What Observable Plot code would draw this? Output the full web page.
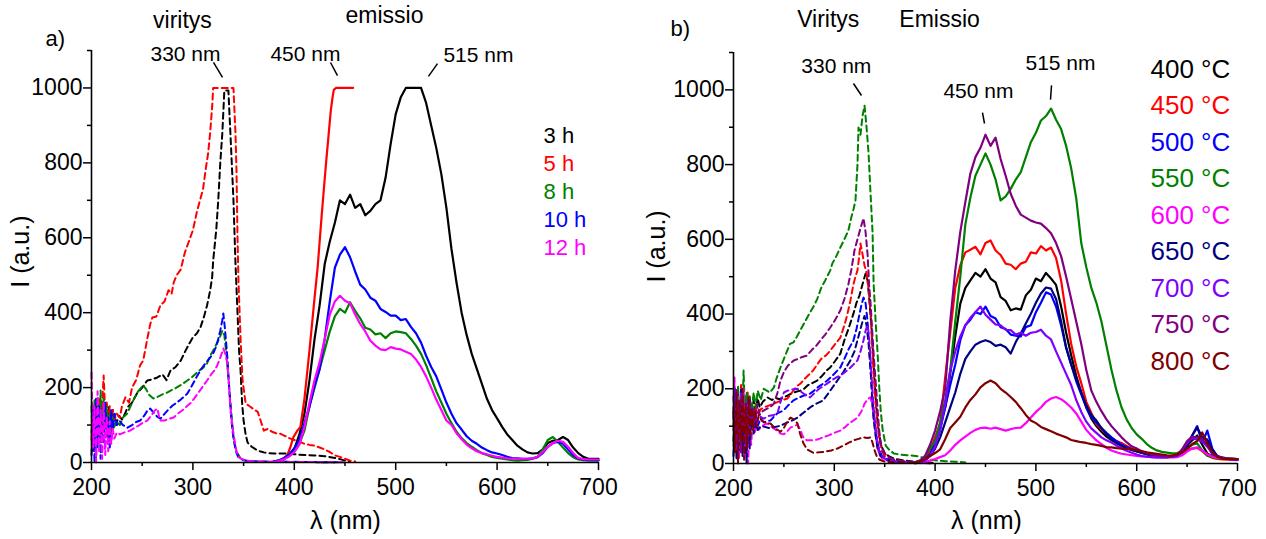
<!DOCTYPE html>
<html><head><meta charset="utf-8">
<script src="https://cdn.jsdelivr.net/npm/d3@7"></script>
<script src="https://cdn.jsdelivr.net/npm/@observablehq/plot@0.6"></script>
<style>
body{margin:0;background:#fff;}
#wrap{display:flex;width:1266px;height:539px;overflow:hidden;}
#wrap svg{font-family:"Liberation Sans",Arial,sans-serif;overflow:visible;}
</style></head><body><div id="wrap"></div>
<script>
// ---------- shared ticks ----------
const xMajor = [200,300,400,500,600,700];
const xMinor = [250,350,450,550,650];
const yMajor = [0,200,400,600,800,1000];
const yMinor = [100,300,500,700,900,1100];

// emission wavelength grid (nm)
const wlEm = [380,385,390,395,400,405,410,415,420,425,430,435,440,445,450,455,460,465,470,475,480,485,490,495,500,505,510,515,520,525,530,535,540,545,550,555,560,565,570,575,580,585,590,595,600,605,610,615,620,625,630,635,640,645,650,655,660,665,670,675,680,685,690,695,700];

// ---------- panel a : excitation (dashed), [nm, I] ----------
const exA_3h = [[200,80],[201.5,130],[203,60],[204.5,150],[206,90],[207.5,140],[209,70],[210.5,155],[212,100],[213.5,145],[215,90],[217,150],[219,110],[221,140],[224,100],[227,125],[230,115],[233,130],[235.5,147],[240,160],[245,185],[250,200],[255,219],[260,222],[265,227],[270,235],[274,220],[278,246],[283,255],[288,272],[293,300],[297,320],[300,334],[304,345],[307.5,361],[311,390],[314,420],[317,459],[319,495],[320,539],[323,620],[325,700],[327,800],[329,878],[331,993],[335,993],[337,878],[339,760],[340,700],[342,531],[344,400],[345.5,300],[347,246],[348.5,160],[350,112],[352,75],[354,53],[358,42],[362,35],[366,30],[370,27],[375,25],[380,24],[390,24],[400,22],[410,20],[420,19],[430,17],[440,12],[445,9],[450,5],[455,3]];
const exA_5h = [[200,60],[201.5,150],[203,100],[204.5,160],[206,90],[207.5,170],[209,120],[210.5,160],[212,232],[213.5,130],[215,160],[216.5,110],[218,150],[219.5,120],[221,140],[223,115],[225,130],[228,120],[230,150],[233.5,174],[237,160],[240,200],[244,220],[248,260],[251,272],[255,330],[258,370],[260,387],[264,390],[268,420],[272,430],[276,460],[279,450],[281,480],[284,500],[288,515],[292,560],[296,590],[300,620],[304,670],[307,700],[310,730],[313,790],[315,825],[317,880],[319,950],[320,1000],[340,1000],[342,878],[343,780],[344,600],[345,480],[347,330],[349,219],[352,158],[356,150],[360,142],[364,135],[367,110],[370,85],[374,90],[378,82],[382,78],[386,77],[390,72],[395,65],[400,60],[405,55],[410,50],[415,47],[420,45],[425,40],[430,35],[435,28],[440,19],[445,15],[450,10],[455,5],[460,3]];
const exA_8h = [[200,150],[201.5,30],[203,170],[204.5,10],[206,160],[207.5,60],[209,192],[210.5,70],[212,170],[213.5,90],[215,150],[216.5,60],[218,130],[219.5,80],[221,120],[222,93],[225,110],[228,100],[231,120],[235,130],[238,147],[242,170],[246,190],[249,200],[251,206],[254,195],[257,180],[261,171],[265,175],[270,182],[274,186],[278,192],[282,197],[287,205],[291,212],[294.5,219],[298,225],[302,235],[306,245],[310.5,254],[314,265],[317,285],[320,299],[323,315],[326,330],[329,352],[331,340],[333,290],[335,227],[337,160],[339,100],[340,67],[342,40],[344,25],[347,11],[352,5],[360,3],[380,2],[400,2],[420,1],[440,1]];
const exA_10h = [[200,20],[201.5,140],[203,0],[204.5,170],[206,40],[207.5,150],[209,10],[210.5,130],[212,50],[213.5,160],[215,70],[216.5,120],[218,40],[219.5,140],[221,90],[223,130],[225,100],[228,110],[231,100],[235.5,93],[240,100],[244,108],[248,112],[252,125],[255,138],[258,144],[262,130],[265,122],[268,117],[272,130],[276,142],[280,152],[284,160],[288,168],[291,175],[294.5,184],[298,200],[301,215],[304,230],[307.5,246],[311,260],[314,270],[317,280],[320,291],[323,310],[325,330],[327,352],[329,380],[330,398],[331.5,360],[334,280],[336,190],[337.5,130],[339,85],[341,50],[343,25],[345,13],[350,6],[360,3],[380,2],[420,1],[445,1]];
const exA_12h = [[200,240],[201.5,40],[203,150],[204.5,0],[206,190],[207.5,30],[209,140],[210.5,10],[212,160],[213.5,20],[215,120],[216.5,30],[218,110],[219.5,50],[221,90],[222.5,64],[225,80],[228,75],[232,80],[235,82],[238,85],[242,92],[246,98],[250,105],[255,112],[259,125],[262,138],[265,144],[267,118],[268,112],[272,112],[276,116],[281,120],[285,130],[290,140],[294,150],[297.5,158],[301,170],[305,185],[309,200],[314,219],[318,235],[321,245],[324,259],[327,280],[330,304],[332,290],[334,264],[336,190],[337.5,130],[339,95],[341,60],[343,30],[345,15],[347,11],[352,5],[360,3],[380,2],[420,1],[450,1]];

// ---------- panel a : emission (solid) ----------
const emA_3h = [2,5,10,20,35, 75,130,220,330,420, 530,590,640,700,690, 715,680,690,660,672, 690,700,760,850,930, 975,1000,1000,1000,1000, 960,900,840,770,680, 570,480,400,340,290, 250,210,170,140,118, 95,75,60,45,35, 27,24,25,35,52, 58,60,68,60,40, 25,15,10,10,10];
const emA_5h = [[380,3],[385,5],[390,12],[393,19],[396,40],[399,67],[403,85],[406,95],[410,170],[415,300],[420,440],[423,520],[427,660],[431,790],[434,880],[436,940],[438,980],[439,995],[441,1000],[458,1000]];
const emA_8h = [2,4,9,18,30, 50,85,150,200,250, 300,350,390,410,400, 428,405,385,360,355, 342,345,332,345,350, 348,345,330,312,290, 260,225,190,160,130, 105,82,65,52,42, 33,25,20,15,12, 10,8,6,5,6, 7,10,15,35,60, 68,55,40,25,14, 8,6,5,5,5];
const emA_10h = [3,6,12,22,38, 62,105,150,205,250, 330,430,520,555,575, 548,510,475,462,440, 432,410,402,392,392, 380,383,362,345,320, 285,255,230,195,160, 130,105,88,70,58, 50,40,33,27,24, 20,15,12,11,10, 10,11,14,25,42, 52,55,50,35,20, 11,8,7,7,6];
const emA_12h = [2,4,9,16,28, 48,95,160,220,268, 330,395,430,445,432, 425,395,370,350,325, 312,302,300,308,304, 302,296,290,275,255, 230,200,168,140,112, 100,78,62,48,38, 30,25,22,18,15, 13,11,10,10,10, 10,11,15,28,42, 52,58,55,42,25, 12,9,8,8,8];

const seriesA = ["3 h","5 h","8 h","10 h","12 h"];
const colorsA = ["#000000","#ff0000","#008000","#0000ff","#ff00ff"];

// ---------- panel b : excitation (dashed) ----------
const exB_400 = [[200,140],[201.5,60],[203,190],[204.5,20],[206,160],[207.5,90],[209,200],[210.5,50],[212,170],[214,100],[216,180],[218,130],[220,170],[222,140],[224,175],[226,150],[229,165],[233.7,177],[238,170],[242,175],[245.6,172],[249.6,177],[254,182],[258,188],[262,192],[266.5,195],[270,200],[274,210],[278,215],[283,222],[288,235],[292,248],[296,257],[301,275],[306,294],[310,330],[314,360],[319,401],[322,430],[325,450],[328,480],[331,508],[333,490],[335,430],[337,360],[338.5,290],[340,220],[341.5,160],[343,110],[345,70],[347,45],[350,28],[355,18],[360,12],[370,8],[380,5],[390,3],[400,2]];
const exB_450 = [[200,100],[201.5,200],[203,30],[204.5,180],[206,80],[207.5,210],[209,60],[210.5,170],[212,100],[214,190],[216,90],[218,160],[220,120],[222,150],[224,130],[227,145],[230,150],[235,155],[240,160],[244,165],[249,170],[253.6,174],[258,190],[262,205],[266.5,214],[270,225],[275,238],[279,249],[283,265],[287,280],[292,290],[296,302],[301,320],[306,337],[310,370],[313,400],[316,436],[319,480],[321,500],[323,517],[324.5,550],[326,589],[328,560],[330,530],[332,510],[334,470],[336,400],[337.5,320],[339,240],[341,160],[343,100],[345,60],[347,35],[350,20],[355,12],[362,8],[370,5],[380,3],[390,2]];
const exB_500 = [[200,20],[201.5,160],[203,70],[204.5,190],[206,30],[207.5,150],[209,80],[210.5,180],[212,40],[214,150],[216,60],[218,140],[220,90],[222,130],[224,100],[227,120],[230,110],[233,113],[236.7,115],[240,125],[244,135],[249.6,142],[254,155],[259.5,169],[264,175],[268,180],[272,184],[276,187],[280,195],[284,205],[288,212],[293,222],[297,232],[301,243],[306,257],[310,280],[314,305],[319,329],[322,360],[325,400],[327,425],[329,444],[331,430],[333,380],[335,300],[336.5,230],[338,160],[340,110],[342,70],[344,40],[347,22],[350,14],[356,8],[365,5],[380,3],[395,2]];
const exB_550 = [[200,120],[201.5,200],[203,60],[204.5,210],[206,100],[207.5,180],[209,140],[210,249],[211.5,120],[213,190],[214.5,100],[216,180],[218,140],[220,190],[222,150],[224,195],[227,170],[230,200],[233,195],[236,190],[240,203],[243,230],[246.6,257],[250,280],[253,300],[256,320],[259.5,324],[263,340],[267,360],[271,380],[275,400],[279,418],[283,440],[287,470],[291,490],[296,517],[298,535],[302,555],[306,578],[310,600],[314,624],[317,660],[319,680],[321,704],[323,800],[324,899],[326,880],[328,930],[330,958],[332,900],[334,830],[336,720],[338,616],[339,482],[341,380],[343,294],[344.5,210],[346,142],[348,90],[351,48],[355,35],[359,27],[365,24],[372,22],[378.6,21],[385,18],[390,14],[395,10],[402,8],[410,6],[420,5],[430,3]];
const exB_600 = [[200,120],[201,230],[202.5,40],[204,180],[205.5,10],[207,150],[208.5,60],[210,200],[211.5,20],[213,130],[214.5,0],[216,120],[217.5,50],[219,110],[221,80],[223,105],[225,90],[228,100],[231,104],[233.7,107],[237,100],[241,92],[246.6,80],[250,78],[253,85],[256.5,96],[260,100],[263.5,104],[266,92],[268,78],[270,66],[273,62],[278,62],[283,64],[289,70],[295,76],[300,82],[306,88],[311,98],[315,108],[319,115],[323,123],[327,140],[330,160],[333,172],[336,177],[338,150],[340,100],[342,55],[344,28],[347,15],[352,8],[360,5],[370,3],[385,2]];
const exB_650 = [[200,60],[201.5,180],[203,10],[204.5,140],[206,50],[207.5,200],[209,20],[210.5,120],[212,70],[213,0],[214.5,160],[216,40],[218,130],[220,80],[222,110],[224,90],[227,100],[231,98],[235,95],[240,97],[246.6,101],[252,108],[258,115],[263.5,123],[270,137],[276,150],[282,160],[289,169],[296,195],[303,222],[309,245],[316,276],[320,300],[323,330],[326,360],[328,380],[330,395],[332,370],[334,320],[336,250],[337.5,180],[339,120],[341,75],[343,40],[346,20],[350,12],[356,7],[365,4],[380,2],[395,1]];
const exB_700 = [[200,90],[201.5,200],[203,40],[204.5,170],[206,60],[207.5,190],[209,100],[210.5,140],[212,50],[214,170],[216,80],[218,150],[220,100],[222,130],[224,110],[227,125],[230,120],[233,125],[236,128],[240,130],[243.7,134],[246.6,165],[250,190],[253.6,195],[258,198],[263.5,200],[268,190],[272,182],[276,177],[281,190],[285,200],[289,207],[293,214],[298,224],[303,232],[309,241],[314,252],[318,262],[323,276],[326,300],[329,330],[331,355],[333,370],[334.5,340],[336,280],[337.5,210],[339,150],[341,95],[343,55],[345,30],[348,18],[352,10],[360,6],[370,4],[385,2]];
const exB_750 = [[200,180],[201.5,60],[203,200],[204.5,90],[206,170],[207.5,30],[209,190],[210.5,80],[212,160],[214,60],[216,170],[218,110],[220,150],[222,120],[224,160],[226,130],[229,140],[232,145],[236,150],[240,160],[243.7,190],[246.6,222],[250,245],[254,262],[260,276],[264,280],[268,285],[273,289],[278,305],[282,315],[286,329],[291,345],[296,364],[301,385],[306,410],[310,440],[314,480],[317,520],[320,570],[323,600],[326,630],[329,656],[331,620],[333,560],[334.5,480],[336,428],[337.5,360],[339,294],[341,220],[343,142],[344.5,90],[346,54],[349,30],[353,18],[360,10],[370,6],[380,3],[395,2]];
const exB_800 = [[200,150],[201.5,30],[203,190],[204.5,0],[206,170],[207.5,60],[209,200],[210.5,10],[212,160],[213.5,40],[215,180],[216.5,70],[218,150],[219.5,90],[221,140],[223,100],[225,130],[228,115],[231,110],[233,108],[236.7,107],[241,95],[246.6,85],[250,95],[253,110],[256.5,123],[260,118],[263.5,107],[266,80],[269.4,54],[273,38],[279,29],[285,30],[290,31],[297,35],[303,40],[309,48],[314,55],[319,62],[324,66],[329,70],[333,68],[336,70],[338,55],[340,35],[342,20],[345,10],[350,5],[360,3],[380,2],[395,1]];

// ---------- panel b : emission (solid) ----------
const emB_400 = [2,5,12,28,60, 105,150,240,340,428, 470,490,510,500,520, 495,485,445,435,410, 415,412,450,465,495, 488,510,495,478,420, 350,290,235,190,150, 120,100,85,72,63, 55,48,42,36,32, 28,24,20,18,17, 16,18,22,35,48, 62,75,50,27,18, 14,13,12,11,10];
const emB_450 = [2,6,15,35,70, 107,230,350,470,530, 565,572,580,560,590, 597,570,558,535,532, 520,535,540,565,562, 582,570,578,550,490, 400,320,260,215,165, 135,105,92,78,68, 60,55,47,40,35, 30,27,24,22,20, 19,20,22,28,36, 40,42,33,22,15, 12,11,10,10,9];
const emB_500 = [2,4,10,25,50, 90,150,210,265,330, 370,385,405,400,420, 395,388,365,360,345, 342,340,365,370,405, 430,458,452,420,370, 310,265,220,185,150, 125,110,95,82,70, 60,50,44,38,33, 29,26,24,22,21, 20,20,22,30,50, 75,100,55,88,40, 19,15,12,11,10];
const emB_550 = [3,8,20,40,60, 110,170,250,380,500, 640,712,770,800,830, 800,760,704,715,735, 760,780,820,860,885, 918,930,950,920,895, 850,790,710,590,525, 470,430,380,315,250, 195,150,118,95,78, 66,52,42,35,31, 29,27,28,33,40, 50,54,35,21,16, 14,13,13,13,12];
const emB_600 = [1,2,4,8,12, 17,22,35,50,62, 72,82,90,95,96, 93,96,92,88,92, 95,96,108,123,138, 150,165,174,178,172, 162,150,134,112,90, 75,62,52,42,35, 30,26,24,22,20, 19,18,17,16,16, 16,16,17,22,32, 40,43,35,25,18, 15,14,13,12,12];
const emB_650 = [1,3,8,20,40, 70,110,150,190,240, 280,300,318,325,330, 325,315,318,311,294, 325,348,375,401,430, 455,471,468,440,380, 310,265,225,190,155, 130,115,95,78,65, 55,47,40,36,33, 30,28,25,24,22, 20,19,21,30,45, 75,96,70,64,35, 20,16,13,12,11];
const emB_700 = [1,3,8,20,45, 90,160,249,300,340, 370,390,405,420,398, 385,372,370,358,357, 345,350,342,350,352, 358,342,332,300,270, 240,210,170,138,112, 94,82,70,62,56, 48,40,34,29,24, 20,18,17,16,16, 17,18,20,35,55, 68,64,59,45,28, 18,14,12,11,10];
const emB_750 = [3,8,20,50,88, 140,200,380,517,620, 700,776,820,845,880, 850,872,815,770,722, 690,666,658,650,645, 642,630,616,590,555, 500,440,380,320,250, 195,165,140,118,100, 85,70,57,46,40, 32,28,24,22,20, 19,19,22,38,60, 72,70,64,50,24, 18,16,14,13,12];
const emB_800 = [2,5,12,20,28, 38,65,95,110,125, 150,170,185,204,215, 222,215,200,190,178, 165,148,130,115,108, 98,92,86,80,75, 70,63,60,57,55, 52,50,47,44,43, 41,40,40,38,36, 33,30,28,26,24, 22,21,24,30,40, 52,60,83,54,30, 18,13,12,12,12];

const seriesB = ["400 °C","450 °C","500 °C","550 °C","600 °C","650 °C","700 °C","750 °C","800 °C"];
const colorsB = ["#000000","#ff0000","#0000ff","#008000","#ff00ff","#000080","#8000ff","#800080","#800000"];

// ---------- annotations (data units) ----------
const notesA = [
  {t:"a)", x:154.6, y:1132, fs:22, anchor:"start"},
  {t:"viritys", x:289.7, y:1179, fs:23, anchor:"middle"},
  {t:"330 nm", x:292.7, y:1089, fs:21, anchor:"middle"},
  {t:"450 nm", x:411, y:1089, fs:21, anchor:"middle"},
  {t:"emissio", x:489, y:1192, fs:23, anchor:"middle"},
  {t:"515 nm", x:581.6, y:1086, fs:21, anchor:"middle"}
];
const leadersA = [
  {x1:320.3,y1:1068,x2:329.2,y2:1028},
  {x1:435.7,y1:1068,x2:442.6,y2:1033},
  {x1:541.2,y1:1065,x2:532.3,y2:1031}
];
const notesB = [
  {t:"b)", x:137.5, y:1164, fs:22, anchor:"start"},
  {t:"Viritys", x:294, y:1189, fs:23, anchor:"middle"},
  {t:"Emissio", x:404.4, y:1189, fs:23, anchor:"middle"},
  {t:"330 nm", x:302, y:1064, fs:21, anchor:"middle"},
  {t:"450 nm", x:443, y:995, fs:21, anchor:"middle"},
  {t:"515 nm", x:524.4, y:1070, fs:21, anchor:"middle"}
];
const leadersB = [
  {x1:319,y1:1017,x2:327,y2:985},
  {x1:447,y1:939,x2:449,y2:910},
  {x1:515.5,y1:1012,x2:514.5,y2:974}
];

// ---------- helpers ----------
const FONT = '"Liberation Sans", Arial, sans-serif';
const onGrid = ys => ys.map((v,i) => [wlEm[i], v]);

function frameMarks(){
  return [
    Plot.axisX({ticks: xMajor, tickSize: 8, tickPadding: 8, fontSize: 23, strokeWidth: 1.5, label: null, tickFormat: "d", fontFamily: FONT}),
    Plot.axisX({ticks: xMinor, tickSize: 4, tickFormat: () => "", strokeWidth: 1.5, label: null}),
    Plot.axisY({ticks: yMajor, tickSize: 8, tickPadding: 1, fontSize: 23, strokeWidth: 1.5, label: null, tickFormat: "d", fontFamily: FONT}),
    Plot.axisY({ticks: yMinor, tickSize: 4, tickFormat: () => "", strokeWidth: 1.5, label: null}),
    Plot.ruleX([200], {strokeWidth: 1.6}),
    Plot.ruleY([0], {strokeWidth: 1.6})
  ];
}
function exLine(d, c){ return Plot.line(d, {x: p => p[0], y: p => p[1], stroke: c, strokeWidth: 2, strokeDasharray: "6,4"}); }
function emLine(d, c){ return Plot.line(d, {x: p => p[0], y: p => p[1], stroke: c, strokeWidth: 2.2}); }
function noteMarks(notes, leaders){
  const m = [];
  for (const n of notes) m.push(Plot.text([n], {x: "x", y: "y", text: "t", fontSize: n.fs, textAnchor: n.anchor, fill: "black", fontFamily: FONT}));
  m.push(Plot.link(leaders, {x1: "x1", y1: "y1", x2: "x2", y2: "y2", stroke: "black", strokeWidth: 1.5}));
  return m;
}

// ---------- panel a ----------
const exA = [exA_3h, exA_5h, exA_8h, exA_10h, exA_12h];
const emA = [onGrid(emA_3h), emA_5h, onGrid(emA_8h), onGrid(emA_10h), onGrid(emA_12h)];
const legendA = seriesA.map((s,i) => ({t: s, c: colorsA[i], x: 645.8, y: 873 - i*74.8}));

const plotA = Plot.plot({
  width: 633, height: 539,
  marginLeft: 91, marginRight: 35, marginTop: 50, marginBottom: 77,
  style: {fontFamily: FONT, background: "white"},
  x: {domain: [200,700]},
  y: {domain: [0,1100]},
  marks: [
    ...exA.map((d,i) => exLine(d, colorsA[i])),
    ...emA.map((d,i) => emLine(d, colorsA[i])),
    ...frameMarks(),
    ...noteMarks(notesA, leadersA),
    Plot.text(legendA, {x: "x", y: "y", text: "t", fill: "c", fontSize: 22, textAnchor: "start", fontFamily: FONT}),
    Plot.text(["λ (nm)"], {x: 450.5, y: -155, text: d => d, fontSize: 25, fontFamily: FONT}),
    Plot.text(["I (a.u.)"], {x: 130, y: 563, text: d => d, fontSize: 25, rotate: -90, fontFamily: FONT})
  ]
});

// ---------- panel b ----------
const exB = [exB_400, exB_450, exB_500, exB_550, exB_600, exB_650, exB_700, exB_750, exB_800];
const emB = [emB_400, emB_450, emB_500, emB_550, emB_600, emB_650, emB_700, emB_750, emB_800].map(onGrid);
const legendB = seriesB.map((s,i) => ({t: s, c: colorsB[i], x: 613.7, y: 1055 - i*97.7}));

const plotB = Plot.plot({
  width: 633, height: 539,
  marginLeft: 100, marginRight: 29, marginTop: 52, marginBottom: 76,
  style: {fontFamily: FONT, background: "white"},
  x: {domain: [200,700]},
  y: {domain: [0,1100]},
  marks: [
    ...exB.map((d,i) => exLine(d, colorsB[i])),
    ...emB.map((d,i) => emLine(d, colorsB[i])),
    ...frameMarks(),
    ...noteMarks(notesB, leadersB),
    Plot.text(legendB, {x: "x", y: "y", text: "t", fill: "c", fontSize: 26, textAnchor: "start", fontFamily: FONT}),
    Plot.text(["λ (nm)"], {x: 451, y: -153, text: d => d, fontSize: 25, fontFamily: FONT}),
    Plot.text(["I (a.u.)"], {x: 124.6, y: 581, text: d => d, fontSize: 25, rotate: -90, fontFamily: FONT})
  ]
});

const wrap = document.getElementById("wrap");
wrap.appendChild(plotA);
wrap.appendChild(plotB);
</script>
</body></html>
